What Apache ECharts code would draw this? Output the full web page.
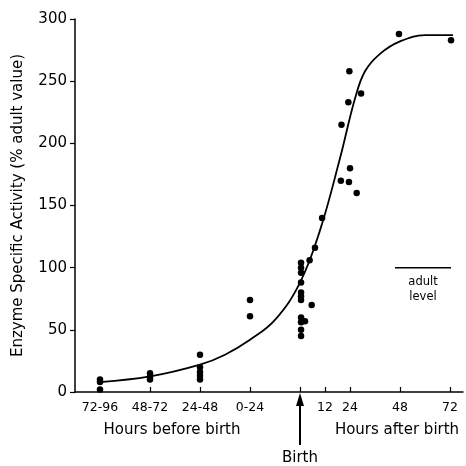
<!DOCTYPE html>
<html>
<head>
<meta charset="utf-8">
<script src="https://cdn.jsdelivr.net/npm/echarts@6/dist/echarts.min.js"></script>
<style>
html,body{margin:0;padding:0;background:#fff}
#chart{width:466px;height:466px}
</style>
</head>
<body>
<div id="chart"></div>
<script>
// x positions: before birth the bins sit at 1..4, birth at 5, after birth 1 unit = 24 h
var beforeBins = ['72-96', '48-72', '24-48', '0-24'];
var afterHours = [12, 24, 48, 72];

// dots before birth, one list per bin
var bin1 = [10, 8, 2];
var bin2 = [15, 12, 10];
var bin3 = [30, 20, 16, 13, 10];
var bin4 = [74, 61];

// dots after birth: hours after birth, value
var afterPts = [
	[0.5, 104], [0.5, 100], [0.5, 96], [0.5, 88], [0.5, 80], [0.5, 77], [0.5, 74],
	[0.5, 60], [0.5, 56], [0.5, 50], [0.5, 45], [2.4, 57],
	[4.6, 106], [5.6, 70], [7.2, 116], [10.6, 140],
	[19.6, 170], [19.9, 215], [23.2, 233], [23.5, 169], [23.7, 258], [24, 180],
	[27.2, 160], [29.3, 240], [47.5, 288], [72.5, 283]
];

// fitted curve (axis position, value)
var curveX = [1, 2, 3, 3.5, 4, 4.5, 5, 5.4, 5.8, 6.1, 6.3, 6.6, 7, 7.5, 8.06];
var curveY = [8, 12.5, 22, 30, 42, 58, 88, 130, 188, 236, 258, 272, 282, 287, 287];

var adultLevel = 100;
var adultFrom = 6.9, adultTo = 8.02;

function hourPos(h){ return 5 + h / 24 }

var labelAt = {};
for (var i = 0; i < beforeBins.length; i++) labelAt[i + 1] = beforeBins[i];
for (var j = 0; j < afterHours.length; j++) labelAt[hourPos(afterHours[j])] = String(afterHours[j]);

function getDots(){
	var a = [];
	[bin1, bin2, bin3, bin4].forEach(function(bin, k){
		bin.forEach(function(v){ a.push([k + 1, v]) });
	});
	afterPts.forEach(function(p){ a.push([hourPos(p[0]), p[1]]) });
	return a;
}

var font = 'DejaVu Sans';
var chart = echarts.init(document.getElementById('chart'));
var labelPos = [1, 2, 3, 4].concat(afterHours.map(hourPos));
var option = {
	animation: false,
	backgroundColor: '#fff',
	grid: { left: 75, right: 3, top: 19, bottom: 74, outerBoundsMode: 'none' },
	xAxis: {
		type: 'value', min: 0.5, max: 8.26,
		axisLine: { show: true, lineStyle: { color: '#000', width: 1.5 } },
		axisTick: { show: true, inside: true, length: 5, customValues: [1, 2, 3, 4, 5].concat(afterHours.map(hourPos)), lineStyle: { color: '#000', width: 1.2 } },
		axisLabel: { customValues: labelPos, formatter: function(v){ return labelAt[v] || '' }, color: '#000', fontFamily: font, fontSize: 12.5, margin: 9 },
		splitLine: { show: false }
	},
	yAxis: {
		type: 'value', min: 0, max: 300, interval: 50,
		name: 'Enzyme Specific Activity (% adult value)', nameLocation: 'middle', nameGap: 49,
		nameTextStyle: { color: '#000', fontFamily: font, fontSize: 15 },
		axisLine: { show: true, lineStyle: { color: '#000', width: 1.5 } },
		axisTick: { show: true, length: 5, lineStyle: { color: '#000', width: 1.2 } },
		axisLabel: { color: '#000', fontFamily: font, fontSize: 15, margin: 8 },
		splitLine: { show: false }
	},
	series: [
		{ type: 'line', data: curveX.map(function(x, k){ return [x, curveY[k]] }), smooth: 0.4, showSymbol: false, lineStyle: { color: '#000', width: 1.8 } },
		{ type: 'line', data: [[adultFrom, adultLevel], [adultTo, adultLevel]], showSymbol: false, lineStyle: { color: '#000', width: 1.5 } },
		{ type: 'scatter', data: getDots(), symbol: 'circle', symbolSize: 6.5, itemStyle: { color: '#000', opacity: 1 } }
	]
};
chart.setOption(option);

var birth = chart.convertToPixel({ gridIndex: 0 }, [5, 0]);
var adult = chart.convertToPixel({ gridIndex: 0 }, [(adultFrom + adultTo) / 2, adultLevel]);
var txt = { fill: '#000', font: '15px "' + font + '"', align: 'center', verticalAlign: 'middle' };
chart.setOption({
	graphic: [
		{ type: 'text', x: 172, y: 430, style: Object.assign({ text: 'Hours before birth' }, txt) },
		{ type: 'text', x: 397, y: 430, style: Object.assign({ text: 'Hours after birth' }, txt) },
		{ type: 'text', x: birth[0], y: 458, style: Object.assign({ text: 'Birth' }, txt) },
		{ type: 'line', shape: { x1: birth[0], y1: 445, x2: birth[0], y2: birth[1] + 10 }, style: { stroke: '#000', lineWidth: 2 } },
		{ type: 'polygon', shape: { points: [[birth[0], birth[1] + 1], [birth[0] - 4, birth[1] + 14], [birth[0] + 4, birth[1] + 14]] }, style: { fill: '#000' } },
		{ type: 'text', x: adult[0], y: adult[1] + 14, style: Object.assign({}, txt, { text: 'adult', font: '11.5px "' + font + '"' }) },
		{ type: 'text', x: adult[0], y: adult[1] + 29, style: Object.assign({}, txt, { text: 'level', font: '11.5px "' + font + '"' }) }
	]
});
</script>
</body>
</html>
